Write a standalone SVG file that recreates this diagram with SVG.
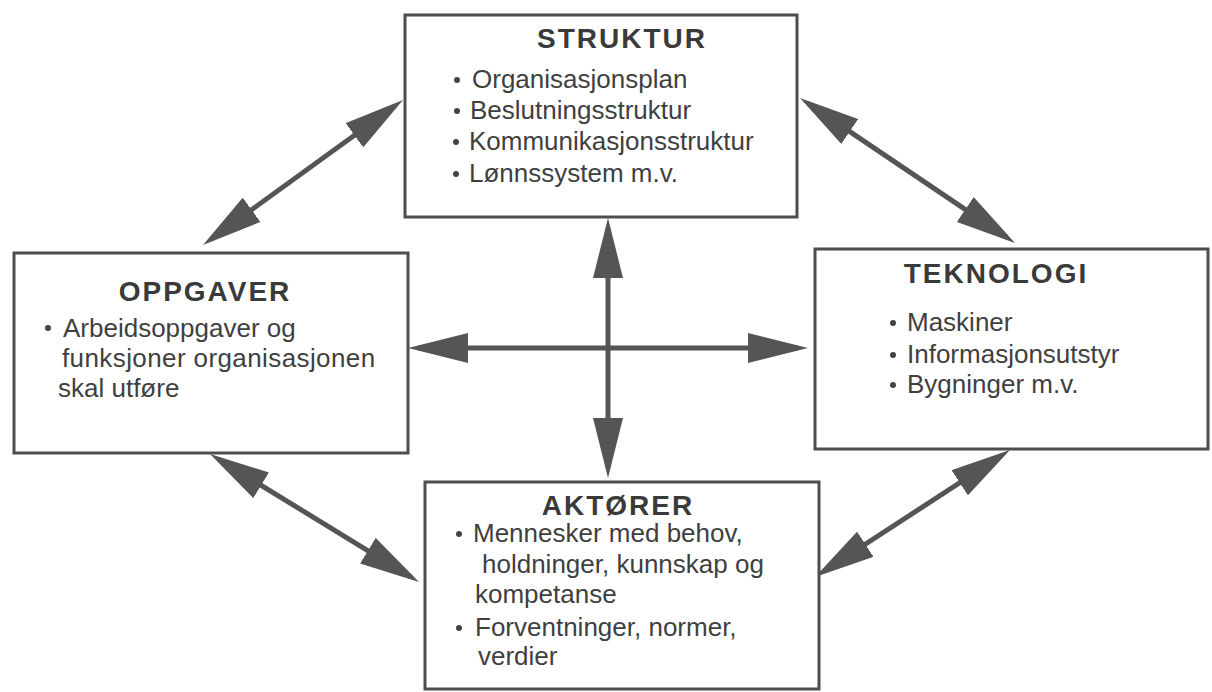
<svg xmlns="http://www.w3.org/2000/svg" width="1212" height="692" viewBox="0 0 1212 692">
<style>
.box{fill:#fff;stroke:#4d4d4d;stroke-width:3}
.title{font-family:"Liberation Sans",Arial,sans-serif;font-weight:bold;font-size:28px;fill:#3a3a3a;letter-spacing:2px;text-anchor:middle}
.body{font-family:"Liberation Sans",Arial,sans-serif;font-size:26px;fill:#3f3f3f}
.dot{fill:#444}
.conn{stroke:#555;stroke-width:5;fill:none;marker-start:url(#ah);marker-end:url(#ah)}
</style>
<defs>
<marker id="ah" markerUnits="userSpaceOnUse" viewBox="0 0 60 30" markerWidth="60" markerHeight="30" refX="50" refY="15" orient="auto-start-reverse">
<path d="M0,0 L60,15 L0,30 Z" fill="#555"/>
</marker>
</defs>
<rect width="1212" height="692" fill="#fff"/>
<g id="connectors">
<line class="conn" x1="394.9" y1="105.9" x2="211.1" y2="239.1"/>
<line class="conn" x1="808.3" y1="103.6" x2="1006.7" y2="237.4"/>
<line class="conn" x1="218.5" y1="459.2" x2="410.5" y2="576.8"/>
<line class="conn" x1="1001.6" y1="455.5" x2="823.4" y2="571.5"/>
<line class="conn" x1="608" y1="228" x2="608" y2="468"/>
<line class="conn" x1="418" y1="348" x2="798" y2="348"/>
</g>
<g id="struktur">
<rect class="box" x="405" y="15" width="392" height="202"/>
<text class="title" x="622" y="48">STRUKTUR</text>
<circle class="dot" cx="457" cy="80" r="3"/>
<text class="body" x="472" y="88">Organisasjonsplan</text>
<circle class="dot" cx="457" cy="111" r="3"/>
<text class="body" x="470" y="119">Beslutningsstruktur</text>
<circle class="dot" cx="456" cy="142" r="3"/>
<text class="body" x="469" y="150">Kommunikasjonsstruktur</text>
<circle class="dot" cx="456" cy="174" r="3"/>
<text class="body" x="469" y="182">Lønnssystem m.v.</text>
</g>
<g id="oppgaver">
<rect class="box" x="14" y="253" width="394" height="200"/>
<text class="title" x="205" y="301">OPPGAVER</text>
<circle class="dot" cx="48" cy="328" r="3"/>
<text class="body" x="63" y="337">Arbeidsoppgaver og</text>
<text class="body" x="62" y="367" letter-spacing="0.4">funksjoner organisasjonen</text>
<text class="body" x="58" y="397">skal utføre</text>
</g>
<g id="teknologi">
<rect class="box" x="815" y="249" width="393" height="200"/>
<text class="title" x="996" y="283">TEKNOLOGI</text>
<circle class="dot" cx="893" cy="323" r="3"/>
<text class="body" x="907" y="331">Maskiner</text>
<circle class="dot" cx="893" cy="355" r="3"/>
<text class="body" x="907" y="363">Informasjonsutstyr</text>
<circle class="dot" cx="893" cy="385" r="3"/>
<text class="body" x="907" y="393">Bygninger m.v.</text>
</g>
<g id="aktorer">
<rect class="box" x="425" y="482" width="394" height="207"/>
<text class="title" x="618" y="515">AKTØRER</text>
<circle class="dot" cx="459" cy="534" r="3"/>
<text class="body" x="473" y="542">Mennesker med behov,</text>
<text class="body" x="482" y="573">holdninger, kunnskap og</text>
<text class="body" x="475" y="603">kompetanse</text>
<circle class="dot" cx="459" cy="628" r="3"/>
<text class="body" x="475" y="636">Forventninger, normer,</text>
<text class="body" x="478" y="665">verdier</text>
</g>
</svg>
